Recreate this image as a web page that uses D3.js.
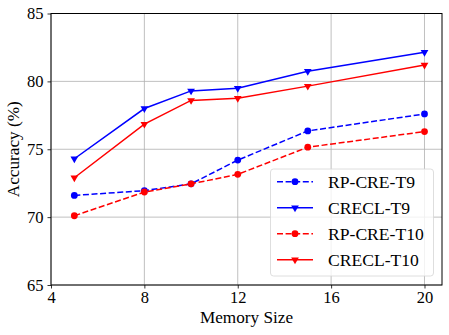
<!DOCTYPE html>
<html>
<head>
<meta charset="utf-8">
<script src="https://cdn.jsdelivr.net/npm/d3@7"></script>
<style>
  body { margin: 0; background: #fff; }
  svg { display: block; }
  svg text { font-family: "Liberation Serif", "Times New Roman", serif; }
</style>
</head>
<body>
<svg width="449" height="335"></svg>
<script>
// memory sizes on the x axis
var memorySizes = [5, 8, 10, 12, 15, 20];

// accuracy (%) per series
var rpcreT9 = [71.6, 71.95, 72.45, 74.2, 76.35, 77.6];
var creclT9 = [74.3, 78.0, 79.3, 79.5, 80.75, 82.15];
var rpcreT10 = [70.1, 71.85, 72.45, 73.15, 75.15, 76.3];
var creclT10 = [72.9, 76.85, 78.6, 78.75, 79.65, 81.2];

var xTicks = [4, 8, 12, 16, 20];
var yTicks = [65, 70, 75, 80, 85];

var series = [
    { name: 'RP-CRE-T9', values: rpcreT9, color: '#0000ff', dashed: true, marker: 'circle' },
    { name: 'CRECL-T9', values: creclT9, color: '#0000ff', dashed: false, marker: 'triangle' },
    { name: 'RP-CRE-T10', values: rpcreT10, color: '#ff0000', dashed: true, marker: 'circle' },
    { name: 'CRECL-T10', values: creclT10, color: '#ff0000', dashed: false, marker: 'triangle' }
];

var margin = { left: 51, top: 13.5, right: 442, bottom: 285 };
var svg = d3.select('svg');

var x = d3.scaleLinear().domain([4, 20.75]).range([margin.left, margin.right]);
var y = d3.scaleLinear().domain([65, 85]).range([margin.bottom, margin.top]);

// grid
var grid = svg.append('g');
grid.selectAll('line.vx')
    .data(xTicks)
    .enter().append('line')
    .attr('x1', function (d) { return x(d); })
    .attr('x2', function (d) { return x(d); })
    .attr('y1', margin.top).attr('y2', margin.bottom)
    .attr('stroke', '#b0b0b0').attr('stroke-width', 0.8);
grid.selectAll('line.hy')
    .data(yTicks)
    .enter().append('line')
    .attr('y1', function (d) { return y(d); })
    .attr('y2', function (d) { return y(d); })
    .attr('x1', margin.left).attr('x2', margin.right)
    .attr('stroke', '#b0b0b0').attr('stroke-width', 0.8);

// axes
var xAxis = svg.append('g')
    .attr('transform', 'translate(0,' + margin.bottom + ')')
    .call(d3.axisBottom(x).tickValues(xTicks).tickSize(3.5).tickPadding(3));
var yAxis = svg.append('g')
    .attr('transform', 'translate(' + margin.left + ',0)')
    .call(d3.axisLeft(y).tickValues(yTicks).tickSize(3.5).tickPadding(4));
[xAxis, yAxis].forEach(function (a) {
    a.attr('font-family', null).attr('font-size', null);
    a.select('.domain').remove();
    a.selectAll('text').attr('font-size', 16.5).attr('fill', '#000');
    a.selectAll('line').attr('stroke', '#000').attr('stroke-width', 0.8);
});

// frame
svg.append('rect')
    .attr('x', margin.left).attr('y', margin.top)
    .attr('width', margin.right - margin.left)
    .attr('height', margin.bottom - margin.top)
    .attr('fill', 'none').attr('stroke', '#000').attr('stroke-width', 1);

// lines and markers
var line = d3.line()
    .x(function (d, i) { return x(memorySizes[i]); })
    .y(function (d) { return y(d); });

var tri = d3.symbol().type(d3.symbolTriangle).size(26);

function drawMarker(g, type, color) {
    if (type === 'circle') {
        g.append('circle').attr('r', 3.4).attr('fill', color);
    } else {
        g.append('path').attr('d', tri()).attr('transform', 'rotate(180)').attr('fill', color);
    }
}

series.forEach(function (s) {
    svg.append('path')
        .datum(s.values)
        .attr('d', line)
        .attr('fill', 'none')
        .attr('stroke', s.color)
        .attr('stroke-width', 1.5)
        .attr('stroke-dasharray', s.dashed ? '6,2.6' : null);
    s.values.forEach(function (v, i) {
        var g = svg.append('g').attr('transform', 'translate(' + x(memorySizes[i]) + ',' + y(v) + ')');
        drawMarker(g, s.marker, s.color);
    });
});

// legend
var legend = svg.append('g');
legend.append('rect')
    .attr('x', 270.5).attr('y', 169)
    .attr('width', 163).attr('height', 107)
    .attr('rx', 3)
    .attr('fill', '#fff').attr('fill-opacity', 0.8)
    .attr('stroke', '#d6d6d6').attr('stroke-width', 0.8);
series.forEach(function (s, i) {
    var ly = 181.7 + i * 26;
    var row = legend.append('g');
    row.append('line')
        .attr('x1', 277).attr('x2', 313)
        .attr('y1', ly).attr('y2', ly)
        .attr('stroke', s.color).attr('stroke-width', 1.5)
        .attr('stroke-dasharray', s.dashed ? '6,2.6' : null);
    drawMarker(row.append('g').attr('transform', 'translate(295,' + ly + ')'), s.marker, s.color);
    row.append('text')
        .attr('x', 328).attr('y', ly + 6.6)
        .attr('font-size', 17.6)
        .text(s.name);
});

// axis labels
svg.append('text')
    .attr('x', (margin.left + margin.right) / 2).attr('y', 322.5)
    .attr('text-anchor', 'middle').attr('font-size', 17.2)
    .text('Memory Size');
svg.append('text')
    .attr('transform', 'translate(18.5,' + (margin.top + margin.bottom) / 2 + ') rotate(-90)')
    .attr('text-anchor', 'middle').attr('font-size', 17.2)
    .text('Accuracy (%)');
</script>
</body>
</html>
